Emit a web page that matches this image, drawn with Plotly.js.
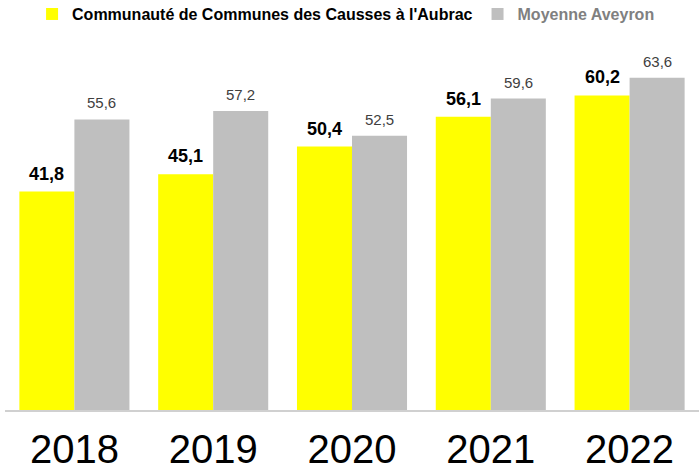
<!DOCTYPE html>
<html>
<head>
<meta charset="utf-8">
<script src="https://cdn.plot.ly/plotly-3.0.1.min.js"></script>
<style>
html,body{margin:0;padding:0;background:#fff;}
#chart{width:699px;height:469px;}
</style>
</head>
<body>
<div id="chart"></div>
<script>
const years = ['2018', '2019', '2020', '2021', '2022'];
const ccValues = [41.8, 45.1, 50.4, 56.1, 60.2];
const aveyronValues = [55.6, 57.2, 52.5, 59.6, 63.6];
const ccName = "Communauté de Communes des Causses à l'Aubrac";
const aveyronName = 'Moyenne Aveyron';

const fmt = v => v.toFixed(1).replace('.', ',');

const traces = [
  {
    type: 'bar', x: years, y: ccValues, name: ccName,
    marker: {color: '#ffff00'}, hoverinfo: 'skip'
  },
  {
    type: 'bar', x: years, y: aveyronValues,
    name: '<span style="color:#808080">' + aveyronName + '</span>',
    marker: {color: '#bfbfbf'}, hoverinfo: 'skip'
  }
];

const annotations = [];
years.forEach((yr, i) => {
  annotations.push({
    x: i, y: ccValues[i], xref: 'x', yref: 'y', text: '<b>' + fmt(ccValues[i]) + '</b>',
    showarrow: false, xshift: -27.5, yanchor: 'bottom', yshift: 6,
    font: {family: 'Liberation Sans, Arial, sans-serif', size: 18, color: '#000000'}
  });
  annotations.push({
    x: i, y: aveyronValues[i], xref: 'x', yref: 'y', text: fmt(aveyronValues[i]),
    showarrow: false, xshift: 27.5, yanchor: 'bottom', yshift: 6,
    font: {family: 'Liberation Sans, Arial, sans-serif', size: 15, color: '#404040'}
  });
});

const layout = {
  width: 699, height: 469,
  margin: {l: 5, r: 0, t: 40, b: 59},
  paper_bgcolor: '#ffffff', plot_bgcolor: '#ffffff',
  barmode: 'group', bargap: 0.207, bargroupgap: 0,
  showlegend: true,
  legend: {
    orientation: 'h', x: 0.039, xanchor: 'left', y: 0.97, yanchor: 'middle',
    yref: 'container',
    font: {family: 'Liberation Sans, Arial, sans-serif', size: 16, color: '#000000', weight: 'bold'},
    traceorder: 'normal', itemclick: false
  },
  xaxis: {
    type: 'category', range: [-0.5, 4.5], autorange: false,
    showgrid: false, zeroline: false,
    showline: true, linecolor: '#d0d0d0', linewidth: 1.5,
    ticks: '', ticklabelstandoff: 3,
    tickfont: {family: 'Liberation Sans, Arial, sans-serif', size: 40, color: '#000000'}
  },
  yaxis: {
    range: [0, 70.8], autorange: false, showgrid: false, zeroline: false, showline: false,
    showticklabels: false, ticks: ''
  },
  annotations: annotations
};

Plotly.newPlot('chart', traces, layout, {displayModeBar: false, staticPlot: true});
</script>
</body>
</html>
